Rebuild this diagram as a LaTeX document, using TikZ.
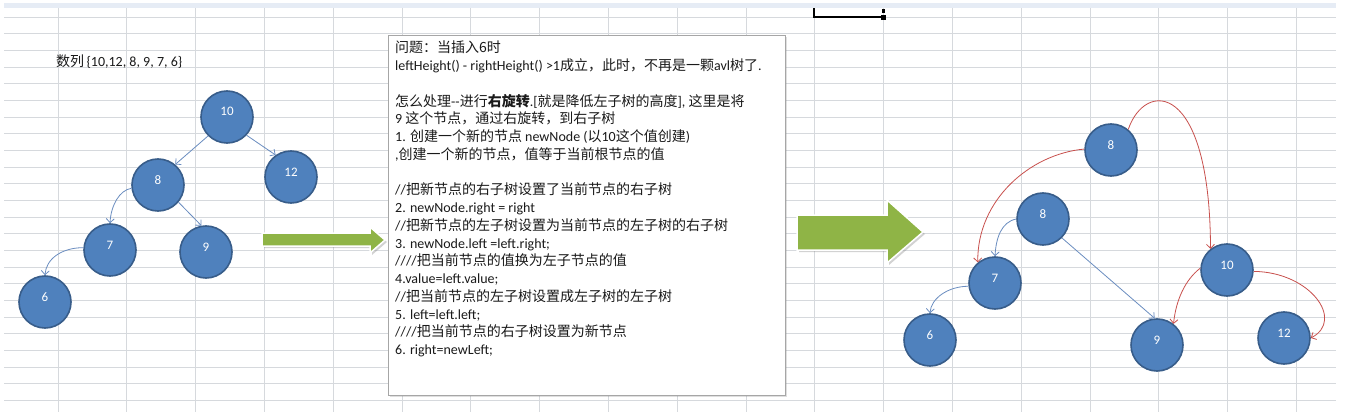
\documentclass[tikz,border=0pt]{standalone}
\usepackage{fontspec}
\setmainfont{Carlito}
\newfontfamily\cjk{Noto Sans CJK SC}
\usetikzlibrary{arrows.meta,shadows}
\definecolor{gridc}{HTML}{D6D9DD}
\definecolor{bandc}{HTML}{E6ECF5}
\definecolor{nodefill}{HTML}{4F81BD}
\definecolor{nodeline}{HTML}{385D8A}
\definecolor{edgeblue}{HTML}{6A8DC0}
\definecolor{edgered}{HTML}{C8504D}
\definecolor{arrowgreen}{HTML}{8FB446}
\definecolor{txt}{HTML}{1A1A1A}
\newcommand\zh[1]{{\cjk #1}}
\newcommand\lbl[1]{\smash{\raisebox{1pt}{#1}}\hspace{6pt}}
\begin{document}
\begin{tikzpicture}[x=1pt,y=-1pt,
  gridline/.style={draw=gridc,line width=0.8pt},
  ball/.style={circle,minimum size=52pt,inner sep=0pt,fill=nodefill,draw=nodeline,line width=1.6pt,text=white,font=\fontsize{13}{13}\selectfont},
  bluearrow/.style={draw=edgeblue,line width=0.8pt,-{Straight Barb[length=4pt,width=8pt]}},
  redarrow/.style={draw=edgered,line width=0.8pt,-{Straight Barb[length=4pt,width=8pt]}},
  greenarrow/.style={fill=arrowgreen,draw=white,line width=1.5pt,drop shadow={opacity=0.35,shadow xshift=2pt,shadow yshift=-2pt}},
  panel/.style={rectangle,fill=white,draw=black!35,line width=0.8pt,inner sep=0pt,drop shadow={opacity=0.25,shadow xshift=1.5pt,shadow yshift=-1.5pt}},
  bodytext/.style={align=left,inner sep=0pt,text=txt,font=\fontsize{14}{17.75}\selectfont}
]
\useasboundingbox (0,0) rectangle (1352,417);
\fill[white] (0,0) rectangle (1352,417);
% top band
\fill[bandc] (4,3) rectangle (1336,8);
% grid
\foreach \k in {0,...,23} \draw[gridline] (4,{17+16.667*\k}) -- (1336,{17+16.667*\k});
\foreach \k in {0,...,18} \draw[gridline] ({58+68.8*\k},8) -- ({58+68.8*\k},412);
% selection marker
\draw[line width=2.6pt,line cap=rect] (814,9) -- (814,17) -- (880,17);
\fill (881,15) rectangle (886,20);
\fill (882,9) rectangle (885,13);

% title
\node[anchor=west,inner sep=0pt,text=txt,font=\fontsize{14}{14}\selectfont] (title) at (56,62) {\zh{数列}\,\{10,12, 8, 9, 7, 6\}};

% left tree
\node[ball] (a10) at (227,117) {\lbl{10}};
\node[ball] (a12) at (291,177) {\lbl{12}};
\node[ball] (a8) at (158,185) {\lbl{8}};
\node[ball] (a7) at (110,250) {\lbl{7}};
\node[ball] (a9) at (206,252) {\lbl{9}};
\node[ball] (a6) at (45,302) {\lbl{6}};
\draw[bluearrow] (a10.225) -- (a8.50);
\draw[bluearrow] (a10.-43) -- (a12.125);
\draw[bluearrow] (a8.-40) -- (a9.100);
\draw[bluearrow] (a8.187) .. controls +(-12,2) and +(1,-18) .. (a7.north);
\draw[bluearrow] (a7.175) .. controls +(-22,0) and +(1,-16) .. (a6.north);

% green arrows
\path[greenarrow] (262,233) -- (370,233) -- (370,227) -- (385,240) -- (370,253) -- (370,246) -- (262,246) -- cycle;
\path[greenarrow] (797,215) -- (887,215) -- (887,200) -- (923,232) -- (887,263) -- (887,250) -- (797,250) -- cycle;

% text panel
\node[panel,anchor=north west,minimum width=397pt,minimum height=360pt] (box) at (388,35) {};
\node[bodytext,anchor=north west] (notes) at (395,41) {%
\zh{问题：当插入6时}\\
leftHeight() - rightHeight() >1\zh{成立，此时，不再是一颗}avl\zh{树了}.\\
\mbox{}\\
\zh{怎么处理}-{}-\zh{进行}{\cjk\bfseries 右旋转}.[\zh{就是降低左子树的高度}], \zh{这里是将}\\
9 \zh{这个节点，通过右旋转，到右子树}\\
1. \zh{创建一个新的节点} newNode (\zh{以}10\zh{这个值创建})\\
,\zh{创建一个新的节点，值等于当前根节点的值}\\
\mbox{}\\
//\zh{把新节点的右子树设置了当前节点的右子树}\\
2. newNode.right = right\\
//\zh{把新节点的左子树设置为当前节点的左子树的右子树}\\
3. newNode.left =left.right;\\
////\zh{把当前节点的值换为左子节点的值}\\
4.value=left.value;\\
//\zh{把当前节点的左子树设置成左子树的左子树}\\
5. left=left.left;\\
////\zh{把当前节点的右子树设置为新节点}\\
6. right=newLeft;};

% right tree
\node[ball] (r8a) at (1111,150) {\lbl{8}};
\node[ball] (r8b) at (1043,219) {\lbl{8}};
\node[ball] (r7) at (995,283) {\lbl{7}};
\node[ball] (r6) at (930,340) {\lbl{6}};
\node[ball] (r9) at (1157,345) {\lbl{9}};
\node[ball] (r10) at (1227,270) {\lbl{10}};
\node[ball] (r12) at (1284,338) {\lbl{12}};
\draw[bluearrow] (r8b.180) .. controls +(-15,3) and +(1,-18) .. (r7.north);
\draw[bluearrow] (r7.187) .. controls +(-20,0) and +(1,-15) .. (r6.north);
\draw[bluearrow] (r8b.-45) -- (r9.95);
\draw[redarrow] (r8a.178) .. controls (1030,154) and (977,200) .. (r7.130);
\draw[redarrow] (r8a.50) .. controls (1145,80) and (1210,80) .. (r10.128);
\draw[redarrow] (r10.176) .. controls (1185,280) and (1176,300) .. (r9.52);
\draw[redarrow] (r10.-3) .. controls (1310,272) and (1345,320) .. (r12.east);
\end{tikzpicture}
\end{document}
